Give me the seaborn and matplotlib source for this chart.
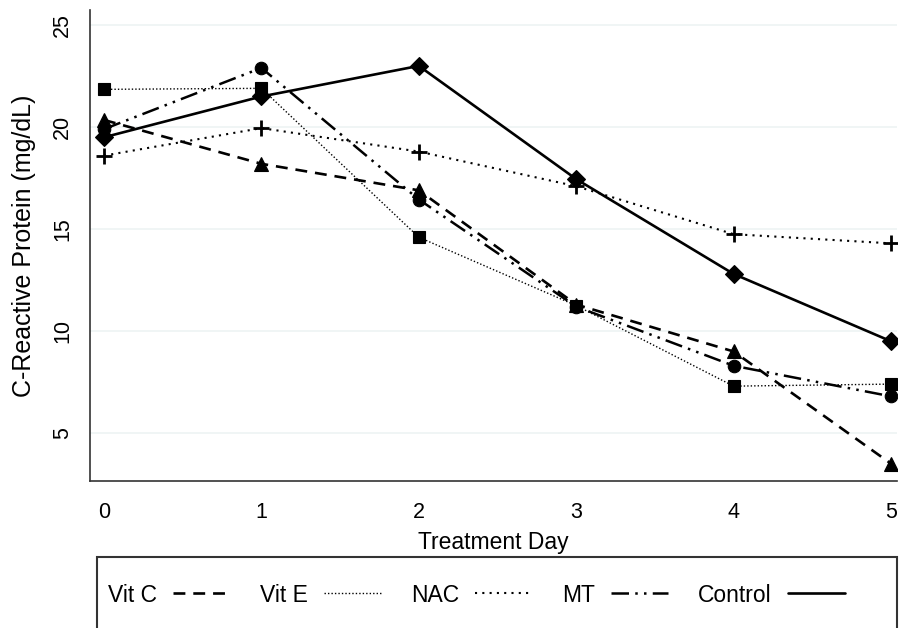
import numpy as np
import pandas as pd
import matplotlib
matplotlib.use('Agg')
import matplotlib.pyplot as plt
from matplotlib.lines import Line2D
from matplotlib.patches import Rectangle
import seaborn as sns

days = [0, 1, 2, 3, 4, 5]
vit_c = [20.35, 18.2, 16.9, 11.3, 9.0, 3.5]
vit_e = [21.85, 21.9, 14.6, 11.25, 7.3, 7.4]
nac = [18.6, 19.95, 18.8, 17.1, 14.75, 14.3]
mt = [19.9, 22.9, 16.45, 11.2, 8.3, 6.8]
control = [19.5, 21.5, 23.0, 17.45, 12.8, 9.5]

series_names = ['Vit C', 'Vit E', 'NAC', 'MT', 'Control']
series_values = [vit_c, vit_e, nac, mt, control]

styles = {
    'Vit C': dict(marker='^', ms=10, lw=1.9, ls=(0, (4.5, 3))),
    'Vit E': dict(marker='s', ms=9, lw=1.0, ls=(0, (1, 1.5))),
    'NAC': dict(marker='+', ms=11, lw=1.5, ls=(0, (1, 2.5))),
    'MT': dict(marker='o', ms=9, lw=1.8, ls=(0, (7, 2.5, 1, 2.5, 1, 2.5))),
    'Control': dict(marker='D', ms=9, lw=1.9, ls='-'),
}

sns.set_style('white')
plt.rcParams['font.family'] = ['Liberation Sans', 'DejaVu Sans']
plt.rcParams['text.color'] = 'black'
plt.rcParams['axes.labelcolor'] = 'black'
plt.rcParams['xtick.color'] = 'black'
plt.rcParams['ytick.color'] = 'black'

df = pd.DataFrame({
    'day': days * len(series_names),
    'crp': sum(series_values, []),
    'group': np.repeat(series_names, len(days)),
})

fig = plt.figure(figsize=(8.99, 6.28), dpi=100)
ax = fig.add_axes([90 / 899, 1 - 481 / 628, (897 - 90) / 899, (481 - 10) / 628])

for name in series_names:
    st = styles[name]
    sub = df[df['group'] == name]
    sns.lineplot(data=sub, x='day', y='crp', ax=ax, color='black',
                 marker=st['marker'], markersize=st['ms'], linewidth=st['lw'],
                 linestyle=st['ls'], markeredgecolor='black',
                 markeredgewidth=2.0 if st['marker'] == '+' else 0.8)

ax.set_xlim(-14 / 157.4, 5 + 6 / 157.4)
ax.set_ylim(2.65, 25.74)
ax.set_xticks(days)
ax.set_yticks([5, 10, 15, 20, 25])
ax.yaxis.grid(True, color='#eef3f3', lw=1.2)
ax.set_axisbelow(True)

for s in ['top', 'right']:
    ax.spines[s].set_visible(False)
for s in ['left', 'bottom']:
    ax.spines[s].set_color('#333333')
    ax.spines[s].set_linewidth(1.2)

ax.tick_params(axis='both', length=9, width=1.2, color='#333333', direction='out')
ax.tick_params(axis='x', labelsize=15.5, pad=6)
ax.tick_params(axis='y', labelsize=15.5, labelrotation=90, pad=3)
for lab in ax.get_yticklabels():
    lab.set_va('center')

ax.set_xlabel('Treatment Day', fontsize=16.5, labelpad=6)
ax.set_ylabel('C-Reactive Protein (mg/dL)', fontsize=18, labelpad=12)

# legend box at the bottom, cut by the figure edge
fig.patches.append(Rectangle((97 / 899, -0.02), (897 - 97) / 899, 0.02 + 1 - 557 / 628,
                             transform=fig.transFigure, fill=False,
                             edgecolor='#333333', lw=1.5))

handles = [Line2D([], [], color='black', lw=styles[n]['lw'], ls=styles[n]['ls'])
           for n in series_names]
fig.legend(handles, series_names, loc='center left',
           bbox_to_anchor=(87 / 899, 1 - 595 / 628), ncol=5, frameon=False,
           markerfirst=False, handlelength=2.5, handletextpad=0.7,
           columnspacing=1.3, fontsize=16.5)

fig.savefig('out.png', dpi=100)
